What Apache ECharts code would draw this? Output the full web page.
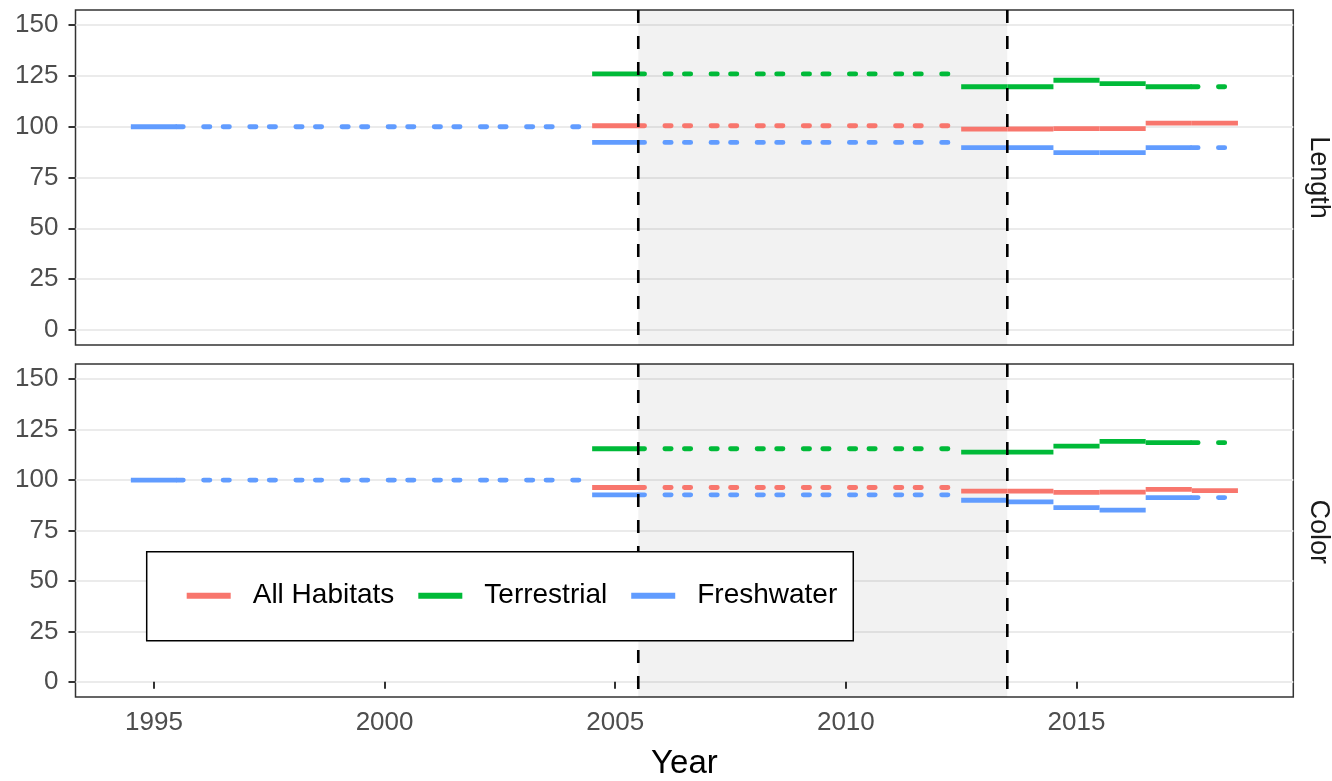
<!DOCTYPE html>
<html><head><meta charset="utf-8">
<script src="https://cdn.jsdelivr.net/npm/echarts@6/dist/echarts.min.js"></script>
<style>html,body{margin:0;padding:0;background:#fff}#c{width:1332px;height:781px}</style>
</head><body><div id="c"></div>
<script>
// ---------- data ----------
const years = [1995,1996,1997,1998,1999,2000,2001,2002,2003,2004,2005,2006,2007,2008,2009,2010,2011,2012,2013,2014,2015,2016,2017,2018];
const habitats = ['All Habitats','Terrestrial','Freshwater'];
const panels = ['Length','Color'];
const yTicks = [0,25,50,75,100,125,150];
const xTicks = [1995,2000,2005,2010,2015];
const period = [2005.5, 2013.5];

// Length panel (1 = observed / solid, 0 = carried forward / dashed)
const lengthAll      = [null,null,null,null,null,null,null,null,null,null,100.5,100.5,100.5,100.5,100.5,100.5,100.5,100.5,98.8,98.9,99.1,99.1,101.8,101.8];
const lengthAllObs   = [0,0,0,0,0,0,0,0,0,0,1,0,0,0,0,0,0,0,1,1,1,1,1,1];
const lengthTer      = [null,null,null,null,null,null,null,null,null,null,126,126,126,126,126,126,126,126,119.7,119.7,122.9,121.2,119.7,119.7];
const lengthTerObs   = [0,0,0,0,0,0,0,0,0,0,1,0,0,0,0,0,0,0,1,1,1,1,1,0];
const lengthFresh    = [100,100,100,100,100,100,100,100,100,100,92.3,92.3,92.3,92.3,92.3,92.3,92.3,92.3,89.7,89.7,87.3,87.3,89.7,89.7];
const lengthFreshObs = [1,0,0,0,0,0,0,0,0,0,1,0,0,0,0,0,0,0,1,1,1,1,1,0];

// Color panel
const colorAll       = [null,null,null,null,null,null,null,null,null,null,96.3,96.3,96.3,96.3,96.3,96.3,96.3,96.3,94.5,94.5,93.9,94.0,95.4,94.8];
const colorAllObs    = [0,0,0,0,0,0,0,0,0,0,1,0,0,0,0,0,0,0,1,1,1,1,1,1];
const colorTer       = [null,null,null,null,null,null,null,null,null,null,115.5,115.5,115.5,115.5,115.5,115.5,115.5,115.5,113.8,113.8,116.8,119.2,118.5,118.5];
const colorTerObs    = [0,0,0,0,0,0,0,0,0,0,1,0,0,0,0,0,0,0,1,1,1,1,1,0];
const colorFresh     = [100,100,100,100,100,100,100,100,100,100,92.7,92.7,92.7,92.7,92.7,92.7,92.7,92.7,90.0,89.2,86.3,85.1,91.3,91.3];
const colorFreshObs  = [1,0,0,0,0,0,0,0,0,0,1,0,0,0,0,0,0,0,1,1,1,1,1,0];

const panelSeries = [
  [[lengthAll, lengthAllObs], [lengthTer, lengthTerObs], [lengthFresh, lengthFreshObs]],
  [[colorAll, colorAllObs], [colorTer, colorTerObs], [colorFresh, colorFreshObs]]
];

// ---------- style ----------
const FONT = "'Liberation Sans', Arial, sans-serif";
const colors = ['#F8766D', '#00BA38', '#619CFF'];
const HALF = 0.5;
const xLo = years[0] - HALF, xHi = years[years.length - 1] + HALF;
const xPad = (xHi - xLo) * 0.05;
const yLo = yTicks[0], yHi = yTicks[yTicks.length - 1];
const yPad = (yHi - yLo) * 0.05;

const grids = [
  {left: 75.5, right: 38.7, top: 10, height: 335},
  {left: 75.5, right: 38.7, top: 364, height: 335.3}
].map(g => Object.assign(g, {show: true, borderColor: '#333333', borderWidth: 1.5, backgroundColor: 'transparent'}));

function segRender(params, api) {
  const yr = api.value(0), v = api.value(1), ob = api.value(2);
  const a = api.coord([yr - HALF, v]);
  const b = api.coord([yr + HALF, v]);
  return {
    type: 'line',
    shape: {x1: a[0], y1: a[1], x2: b[0], y2: b[1]},
    style: {stroke: api.visual('color'), lineWidth: 4.8, lineDash: ob ? null : [6.3, 20.3], lineCap: ob ? 'butt' : 'round', fill: null}
  };
}
function shadeRender(params, api) {
  const cs = params.coordSys;
  const a = api.coord([api.value(0), yLo])[0];
  const b = api.coord([api.value(1), yLo])[0];
  return {type: 'rect', shape: {x: a, y: cs.y, width: b - a, height: cs.height}, style: {fill: 'rgba(0,0,0,0.05)'}};
}
function boundRender(params, api) {
  const cs = params.coordSys;
  const xs = [api.coord([api.value(0), yLo])[0], api.coord([api.value(1), yLo])[0]];
  return {type: 'group', children: xs.map(x => ({
    type: 'line', shape: {x1: x, y1: cs.y, x2: x, y2: cs.y + cs.height},
    style: {stroke: '#000', lineWidth: 2.6, lineDash: [13, 13]}
  }))};
}

const xAxes = [0, 1].map(i => ({
  gridIndex: i, type: 'value', min: xLo - xPad, max: xHi + xPad,
  axisLine: {show: false},
  axisTick: i === 1 ? {show: true, customValues: xTicks, length: 7, lineStyle: {color: '#333333', width: 2}} : {show: false},
  axisLabel: i === 1 ? {show: true, customValues: xTicks, formatter: v => String(v), fontSize: 26, color: '#4d4d4d', margin: 13, fontFamily: FONT} : {show: false},
  splitLine: {show: false},
  name: i === 1 ? 'Year' : '',
  nameLocation: 'middle', nameGap: 50,
  nameTextStyle: {fontSize: 33, color: '#000', fontFamily: FONT}
}));
const yAxes = [0, 1].map(i => ({
  gridIndex: i, type: 'value', min: yLo - yPad, max: yHi + yPad,
  axisLine: {show: false},
  axisTick: {show: true, customValues: yTicks, length: 7, lineStyle: {color: '#333333', width: 2}},
  axisLabel: {show: true, customValues: yTicks, formatter: v => String(v), fontSize: 26, color: '#4d4d4d', margin: 17, fontFamily: FONT},
  splitLine: {show: true, lineStyle: {color: '#ebebeb', width: 2}}
}));

const series = [];
[0, 1].forEach(p => {
  series.push({type: 'custom', xAxisIndex: p, yAxisIndex: p, z: 1, silent: true,
    data: [period], encode: {x: [0, 1]}, renderItem: shadeRender});
  panelSeries[p].forEach(([vals, obs], h) => {
    series.push({
      type: 'custom', name: habitats[h], xAxisIndex: p, yAxisIndex: p, z: 3, silent: true,
      itemStyle: {color: colors[h]},
      encode: {x: 0, y: 1},
      data: years.map((yr, i) => vals[i] == null ? null : [yr, vals[i], obs[i]]).filter(d => d),
      renderItem: segRender
    });
  });
  series.push({type: 'custom', xAxisIndex: p, yAxisIndex: p, z: 5, silent: true,
    data: [period], encode: {x: [0, 1]}, renderItem: boundRender});
});

const option = {
  animation: false,
  backgroundColor: '#fff',
  grid: grids,
  xAxis: xAxes,
  yAxis: yAxes,
  legend: {
    z: 20,
    data: habitats, left: 146.7, top: 551.7, orient: 'horizontal', selectedMode: false,
    icon: 'rect', itemWidth: 44, itemHeight: 6, itemGap: 24,
    padding: [30, 16, 31, 40], borderColor: '#000', borderWidth: 1.5, backgroundColor: '#fff',
    textStyle: {fontSize: 28, color: '#000', fontFamily: FONT, padding: [0, 0, 0, 17], lineHeight: 28}
  },
  graphic: panels.map((t, i) => ({
    type: 'text', x: 1318, y: i === 0 ? 177.5 : 531.7, rotation: -Math.PI / 2,
    style: {text: t, fontSize: 27, fill: '#1a1a1a', align: 'center', verticalAlign: 'middle', fontFamily: FONT}
  })),
  series: series
};
const chart = echarts.init(document.getElementById('c'), null, {renderer: 'canvas'});
chart.setOption(option);
</script>
</body></html>
